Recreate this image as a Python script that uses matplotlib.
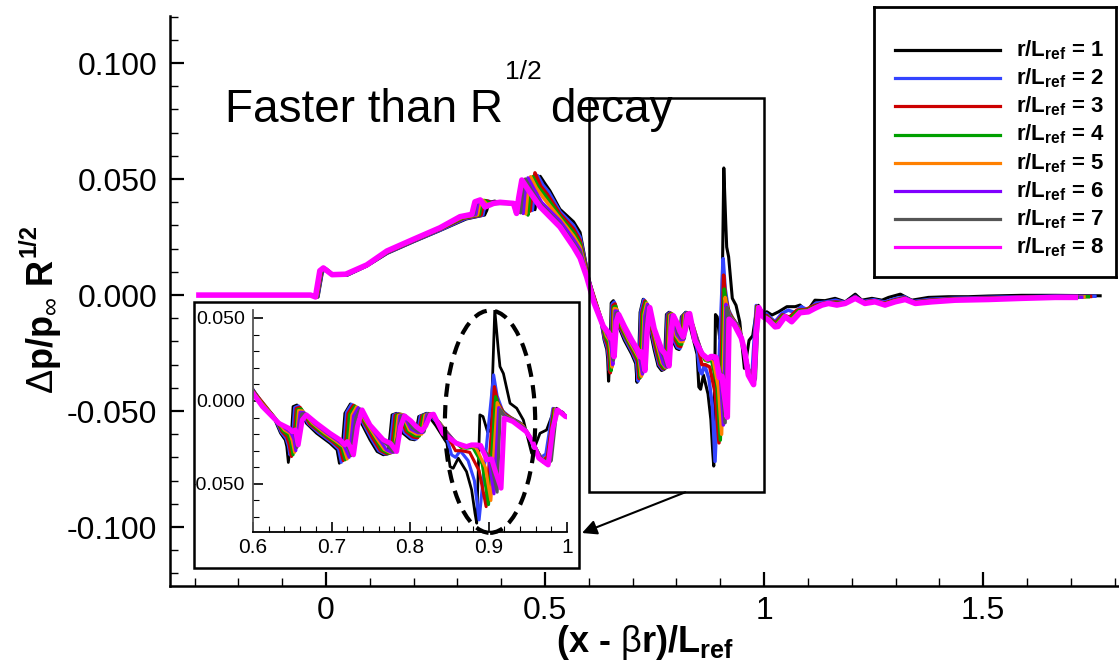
import numpy as np
import matplotlib
matplotlib.use("Agg")
import matplotlib.pyplot as plt
from matplotlib.patches import Rectangle, Ellipse
from matplotlib.ticker import MultipleLocator, FormatStrFormatter, FuncFormatter
from matplotlib.transforms import Bbox, TransformedBbox
from matplotlib import font_manager

plt.rcParams['font.family'] = 'Liberation Sans'
plt.rcParams['mathtext.fontset'] = 'custom'
plt.rcParams['mathtext.rm'] = 'Liberation Sans'
plt.rcParams['mathtext.bf'] = 'Liberation Sans:bold'
plt.rcParams['mathtext.it'] = 'Liberation Sans:italic'

try:
    font_manager.findfont('Liberation Sans Narrow', fallback_to_default=False)
    NARROW = 'Liberation Sans Narrow'
except Exception:
    NARROW = 'Liberation Sans'
plt.rcParams['mathtext.sf'] = NARROW + ':bold'

# ---- data: (x - beta r)/L_ref , dp/p_inf * R^1/2 for each r/L_ref ----
r1 = [(-0.29, 0.0), (-0.030, 0.0), (-0.018, -0.0008), (-0.008, 0.0100), (0.000, 0.0113), (0.018, 0.0085),
      (0.048, 0.0085), (0.093, 0.0125), (0.140, 0.0180), (0.200, 0.0230), (0.260, 0.0278), (0.320, 0.0328),
      (0.362, 0.0345), (0.367, 0.0365), (0.372, 0.0400), (0.385, 0.0405), (0.400, 0.0398), (0.420, 0.0395),
      (0.450, 0.0392), (0.472, 0.0385), (0.477, 0.0368), (0.482, 0.0450), (0.489, 0.0512), (0.500, 0.0480),
      (0.511, 0.0450), (0.534, 0.0370), (0.565, 0.0316), (0.580, 0.0270), (0.595, 0.0120), (0.600, 0.0070),
      (0.609, 0.0006), (0.626, -0.0094), (0.635, -0.0194), (0.641, -0.0235), (0.643, -0.0275), (0.645, -0.0371),
      (0.648, -0.0270), (0.651, -0.0034), (0.656, -0.0024), (0.668, -0.0135), (0.681, -0.0195), (0.698, -0.0255),
      (0.707, -0.0295), (0.710, -0.0376), (0.714, -0.0250), (0.717, -0.0074), (0.724, -0.0018), (0.736, -0.0115),
      (0.749, -0.0235), (0.758, -0.0305), (0.766, -0.0325), (0.772, -0.0320), (0.777, -0.0084), (0.783, -0.0074),
      (0.791, -0.0195), (0.800, -0.0230), (0.806, -0.0235), (0.811, -0.0094), (0.821, -0.0074), (0.833, -0.0150),
      (0.847, -0.0255), (0.851, -0.0396), (0.855, -0.0406), (0.8615, -0.0345), (0.872, -0.0426), (0.8785, -0.0536),
      (0.8828, -0.0677), (0.885, -0.0737), (0.889, -0.0084), (0.893, -0.0094), (0.899, -0.0190), (0.903, -0.0170),
      (0.908, 0.0548), (0.9125, 0.0307), (0.9146, 0.0207), (0.919, 0.0165), (0.9274, -0.0014), (0.9359, -0.0044),
      (0.9444, -0.0115), (0.9507, -0.0235), (0.955, -0.0316), (0.9592, -0.0275), (0.9656, -0.0195), (0.974, -0.0175),
      (0.9804, -0.0094), (0.9868, -0.0044), (0.9953, -0.0084), (1.000, -0.0100), (1.006, -0.0072), (1.018, -0.0086),
      (1.033, -0.0072), (1.052, -0.0050), (1.071, -0.0050), (1.082, -0.0043), (1.0975, -0.0072), (1.116, -0.0022),
      (1.139, -0.0024), (1.162, -0.0014), (1.185, -0.0029), (1.208, 0.0004), (1.223, -0.0022), (1.246, -0.0014),
      (1.269, -0.0022), (1.284, -0.0010), (1.311, 0.0004), (1.337, -0.0022), (1.375, -0.0010), (1.421, -0.0007),
      (1.466, -0.0007), (1.512, -0.0004), (1.588, -0.0001), (1.664, -0.0001), (1.767, -0.0003)]

r2 = [(-0.29, 0.0), (-0.031, 0.0), (-0.019, -0.0008), (-0.009, 0.0101), (-0.001, 0.0114), (0.017, 0.0086),
      (0.047, 0.0086), (0.093, 0.0126), (0.140, 0.0182), (0.200, 0.0232), (0.260, 0.0280), (0.318, 0.0330),
      (0.358, 0.0345), (0.363, 0.0390), (0.370, 0.0405), (0.380, 0.0400), (0.400, 0.0398), (0.420, 0.0395),
      (0.450, 0.0392), (0.466, 0.0385), (0.471, 0.0365), (0.476, 0.0450), (0.483, 0.0515), (0.495, 0.0475),
      (0.508, 0.0445), (0.534, 0.0360), (0.565, 0.0300), (0.580, 0.0250), (0.595, 0.0115), (0.600, 0.0066),
      (0.610, 0.0002), (0.627, -0.0098), (0.636, -0.0190), (0.642, -0.0225), (0.645, -0.0270), (0.647, -0.0325),
      (0.650, -0.0240), (0.653, -0.0040), (0.658, -0.0030), (0.670, -0.0135), (0.683, -0.0190), (0.700, -0.0250),
      (0.709, -0.0290), (0.7125, -0.0370), (0.716, -0.0250), (0.719, -0.0070), (0.7255, -0.0020), (0.738, -0.0115),
      (0.751, -0.0230), (0.760, -0.0300), (0.768, -0.0320), (0.774, -0.0315), (0.779, -0.0085), (0.785, -0.0076),
      (0.793, -0.0190), (0.802, -0.0225), (0.808, -0.0230), (0.813, -0.0092), (0.823, -0.0075), (0.835, -0.0130),
      (0.848, -0.0240), (0.853, -0.0325), (0.858, -0.0340), (0.864, -0.0300), (0.874, -0.0360), (0.882, -0.0480),
      (0.888, -0.0717), (0.893, -0.0480), (0.9065, 0.0157), (0.911, 0.0030), (0.918, -0.0060), (0.928, -0.0100),
      (0.940, -0.0130), (0.950, -0.0200), (0.958, -0.0280), (0.967, -0.0340), (0.973, -0.0320), (0.982, -0.0045),
      (0.990, -0.0060), (0.998, -0.0092), (1.005, -0.0080), (1.013, -0.0095), (1.025, -0.0115), (1.040, -0.0080),
      (1.055, -0.0065), (1.070, -0.0075), (1.085, -0.0050), (1.100, -0.0065), (1.118, -0.0035), (1.140, -0.0030),
      (1.163, -0.0022), (1.185, -0.0032), (1.208, -0.0005), (1.225, -0.0028), (1.250, -0.0020), (1.275, -0.0030),
      (1.300, -0.0015), (1.320, -0.0008), (1.340, -0.0028), (1.380, -0.0018), (1.430, -0.0014), (1.510, -0.0010),
      (1.590, -0.0007), (1.670, -0.0005), (1.755, -0.0005)]

r3 = [(-0.29, 0.0), (-0.032, 0.0), (-0.020, -0.0008), (-0.010, 0.0102), (-0.002, 0.0115), (0.016, 0.0087),
      (0.046, 0.0087), (0.093, 0.0127), (0.140, 0.0184), (0.200, 0.0234), (0.260, 0.0283), (0.315, 0.0332),
      (0.354, 0.0345), (0.359, 0.0392), (0.366, 0.0407), (0.376, 0.0400), (0.398, 0.0398), (0.420, 0.0395),
      (0.450, 0.0390), (0.461, 0.0380), (0.466, 0.0362), (0.471, 0.0460), (0.477, 0.0527), (0.490, 0.0470),
      (0.505, 0.0435), (0.534, 0.0350), (0.565, 0.0285), (0.580, 0.0235), (0.595, 0.0110), (0.600, 0.0062),
      (0.611, -0.0002), (0.628, -0.0102), (0.637, -0.0185), (0.643, -0.0215), (0.646, -0.0260), (0.649, -0.0335),
      (0.652, -0.0230), (0.655, -0.0045), (0.660, -0.0038), (0.672, -0.0138), (0.686, -0.0190), (0.702, -0.0248),
      (0.711, -0.0285), (0.715, -0.0360), (0.718, -0.0250), (0.721, -0.0075), (0.728, -0.0025), (0.740, -0.0118),
      (0.753, -0.0228), (0.762, -0.0298), (0.770, -0.0318), (0.776, -0.0312), (0.781, -0.0086), (0.787, -0.0078),
      (0.795, -0.0185), (0.804, -0.0218), (0.810, -0.0222), (0.815, -0.0090), (0.825, -0.0077), (0.837, -0.0130),
      (0.850, -0.0230), (0.858, -0.0300), (0.866, -0.0300), (0.876, -0.0310), (0.888, -0.0420), (0.897, -0.0637),
      (0.9075, 0.0086), (0.912, -0.0010), (0.920, -0.0075), (0.930, -0.0105), (0.942, -0.0140), (0.951, -0.0205),
      (0.960, -0.0290), (0.969, -0.0360), (0.975, -0.0335), (0.983, -0.0048), (0.991, -0.0062), (0.998, -0.0094),
      (1.006, -0.0088), (1.015, -0.0105), (1.026, -0.0120), (1.042, -0.0085), (1.058, -0.0095), (1.075, -0.0065),
      (1.095, -0.0062), (1.115, -0.0045), (1.140, -0.0033), (1.163, -0.0030), (1.185, -0.0033), (1.208, -0.0008),
      (1.226, -0.0030), (1.250, -0.0024), (1.275, -0.0034), (1.300, -0.0020), (1.320, -0.0012), (1.342, -0.0030),
      (1.380, -0.0022), (1.430, -0.0016), (1.510, -0.0013), (1.590, -0.0009), (1.670, -0.0007), (1.745, -0.0006)]

r4 = [(-0.29, 0.0), (-0.033, 0.0), (-0.021, -0.0008), (-0.011, 0.0103), (-0.003, 0.0115), (0.016, 0.0087),
      (0.046, 0.0088), (0.093, 0.0128), (0.140, 0.0186), (0.200, 0.0236), (0.260, 0.0285), (0.313, 0.0334),
      (0.350, 0.0346), (0.355, 0.0395), (0.362, 0.0408), (0.372, 0.0398), (0.395, 0.0398), (0.420, 0.0395),
      (0.448, 0.0390), (0.456, 0.0375), (0.461, 0.0345), (0.466, 0.0450), (0.472, 0.0510), (0.485, 0.0465),
      (0.500, 0.0430), (0.534, 0.0340), (0.565, 0.0270), (0.580, 0.0222), (0.595, 0.0100), (0.600, 0.0058),
      (0.611, -0.0010), (0.629, -0.0108), (0.638, -0.0180), (0.645, -0.0205), (0.648, -0.0250), (0.651, -0.0325),
      (0.654, -0.0220), (0.6565, -0.0052), (0.6615, -0.0048), (0.674, -0.0135), (0.688, -0.0192), (0.704, -0.0245),
      (0.713, -0.0280), (0.7175, -0.0355), (0.720, -0.0250), (0.723, -0.0080), (0.730, -0.0030), (0.742, -0.0120),
      (0.756, -0.0228), (0.764, -0.0295), (0.772, -0.0315), (0.778, -0.0310), (0.783, -0.0087), (0.789, -0.0080),
      (0.797, -0.0180), (0.806, -0.0210), (0.812, -0.0212), (0.817, -0.0088), (0.826, -0.0078), (0.838, -0.0132),
      (0.853, -0.0230), (0.865, -0.0280), (0.872, -0.0285), (0.880, -0.0280), (0.892, -0.0380), (0.900, -0.0625),
      (0.909, 0.0026), (0.914, -0.0040), (0.921, -0.0085), (0.931, -0.0110), (0.943, -0.0145), (0.952, -0.0210),
      (0.962, -0.0300), (0.970, -0.0370), (0.976, -0.0345), (0.984, -0.0050), (0.992, -0.0064), (0.998, -0.0095),
      (1.007, -0.0095), (1.016, -0.0110), (1.026, -0.0125), (1.044, -0.0088), (1.060, -0.0100), (1.078, -0.0068),
      (1.098, -0.0065), (1.115, -0.0050), (1.140, -0.0035), (1.164, -0.0035), (1.185, -0.0034), (1.208, -0.0010),
      (1.228, -0.0032), (1.251, -0.0026), (1.275, -0.0037), (1.300, -0.0023), (1.321, -0.0014), (1.343, -0.0032),
      (1.381, -0.0024), (1.432, -0.0018), (1.511, -0.0015), (1.590, -0.0011), (1.668, -0.0008), (1.740, -0.0007)]

r5 = [(-0.29, 0.0), (-0.033, 0.0), (-0.022, -0.0008), (-0.012, 0.0104), (-0.004, 0.0116), (0.015, 0.0087),
      (0.045, 0.0088), (0.093, 0.0128), (0.139, 0.0187), (0.199, 0.0237), (0.260, 0.0287), (0.311, 0.0336),
      (0.346, 0.0346), (0.351, 0.0398), (0.358, 0.0409), (0.368, 0.0390), (0.390, 0.0398), (0.420, 0.0395),
      (0.446, 0.0390), (0.451, 0.0370), (0.456, 0.0350), (0.461, 0.0455), (0.467, 0.0510), (0.480, 0.0462),
      (0.496, 0.0420), (0.534, 0.0330), (0.565, 0.0255), (0.580, 0.0208), (0.595, 0.0094), (0.600, 0.0054),
      (0.612, -0.0018), (0.630, -0.0115), (0.640, -0.0175), (0.647, -0.0195), (0.650, -0.0240), (0.653, -0.0310),
      (0.656, -0.0200), (0.658, -0.0058), (0.663, -0.0060), (0.676, -0.0135), (0.691, -0.0193), (0.706, -0.0243),
      (0.715, -0.0275), (0.720, -0.0350), (0.723, -0.0240), (0.726, -0.0085), (0.732, -0.0035), (0.744, -0.0125),
      (0.758, -0.0230), (0.767, -0.0292), (0.775, -0.0312), (0.780, -0.0308), (0.785, -0.0088), (0.791, -0.0082),
      (0.799, -0.0175), (0.808, -0.0200), (0.815, -0.0200), (0.819, -0.0086), (0.827, -0.0079), (0.839, -0.0140),
      (0.856, -0.0240), (0.868, -0.0280), (0.876, -0.0270), (0.884, -0.0280), (0.896, -0.0400), (0.903, -0.0600),
      (0.911, -0.0010), (0.916, -0.0060), (0.922, -0.0092), (0.932, -0.0115), (0.944, -0.0150), (0.953, -0.0215),
      (0.963, -0.0310), (0.972, -0.0375), (0.978, -0.0350), (0.985, -0.0052), (0.993, -0.0066), (0.998, -0.0095),
      (1.008, -0.0100), (1.018, -0.0120), (1.027, -0.0130), (1.046, -0.0090), (1.061, -0.0108), (1.080, -0.0072),
      (1.099, -0.0068), (1.116, -0.0053), (1.140, -0.0036), (1.165, -0.0038), (1.185, -0.0035), (1.208, -0.0011),
      (1.229, -0.0034), (1.252, -0.0027), (1.275, -0.0039), (1.299, -0.0025), (1.321, -0.0016), (1.344, -0.0034),
      (1.382, -0.0026), (1.433, -0.0019), (1.511, -0.0016), (1.589, -0.0012), (1.666, -0.0009), (1.730, -0.0008)]

r6 = [(-0.29, 0.0), (-0.034, 0.0), (-0.023, -0.0008), (-0.013, 0.0104), (-0.005, 0.0116), (0.015, 0.0088),
      (0.045, 0.0089), (0.093, 0.0129), (0.139, 0.0188), (0.199, 0.0238), (0.260, 0.0288), (0.309, 0.0337),
      (0.342, 0.0347), (0.347, 0.0400), (0.354, 0.0410), (0.365, 0.0385), (0.386, 0.0396), (0.420, 0.0395),
      (0.443, 0.0390), (0.446, 0.0365), (0.450, 0.0352), (0.455, 0.0460), (0.461, 0.0505), (0.474, 0.0460),
      (0.492, 0.0400), (0.534, 0.0320), (0.565, 0.0240), (0.580, 0.0195), (0.595, 0.0088), (0.600, 0.0050),
      (0.612, -0.0025), (0.631, -0.0122), (0.642, -0.0170), (0.648, -0.0190), (0.652, -0.0230), (0.6545, -0.0300),
      (0.657, -0.0190), (0.660, -0.0068), (0.665, -0.0070), (0.678, -0.0135), (0.694, -0.0194), (0.708, -0.0240),
      (0.716, -0.0270), (0.7225, -0.0340), (0.725, -0.0235), (0.728, -0.0090), (0.734, -0.0040), (0.746, -0.0130),
      (0.761, -0.0232), (0.770, -0.0295), (0.777, -0.0310), (0.782, -0.0306), (0.787, -0.0089), (0.792, -0.0085),
      (0.801, -0.0170), (0.810, -0.0192), (0.817, -0.0190), (0.821, -0.0085), (0.828, -0.0080), (0.840, -0.0150),
      (0.858, -0.0250), (0.870, -0.0275), (0.880, -0.0265), (0.888, -0.0280), (0.900, -0.0340), (0.907, -0.0560),
      (0.913, -0.0040), (0.918, -0.0075), (0.924, -0.0100), (0.933, -0.0118), (0.945, -0.0160), (0.954, -0.0225),
      (0.964, -0.0320), (0.973, -0.0380), (0.979, -0.0355), (0.986, -0.0053), (0.994, -0.0068), (0.998, -0.0094),
      (1.009, -0.0104), (1.020, -0.0128), (1.028, -0.0133), (1.047, -0.0091), (1.062, -0.0112), (1.081, -0.0074),
      (1.100, -0.0070), (1.116, -0.0055), (1.135, -0.0040), (1.147, -0.0035), (1.166, -0.0041), (1.185, -0.0036),
      (1.208, -0.0012), (1.229, -0.0035), (1.253, -0.0028), (1.276, -0.0041), (1.299, -0.0027), (1.322, -0.0017),
      (1.345, -0.0035), (1.383, -0.0028), (1.435, -0.0021), (1.512, -0.0018), (1.589, -0.0013), (1.665, -0.0010),
      (1.725, -0.0009)]

r7 = [(-0.29, 0.0), (-0.035, 0.0), (-0.024, -0.0008), (-0.014, 0.0105), (-0.006, 0.0117), (0.014, 0.0088),
      (0.045, 0.0089), (0.093, 0.0129), (0.139, 0.0189), (0.199, 0.0239), (0.260, 0.0289), (0.307, 0.0338),
      (0.337, 0.0347), (0.343, 0.0401), (0.350, 0.0410), (0.364, 0.0382), (0.384, 0.0395), (0.420, 0.0395),
      (0.436, 0.0390), (0.440, 0.0360), (0.444, 0.0355), (0.450, 0.0470), (0.455, 0.0500), (0.468, 0.0456),
      (0.490, 0.0390), (0.534, 0.0305), (0.565, 0.0222), (0.580, 0.0185), (0.595, 0.0082), (0.600, 0.0048),
      (0.612, -0.0030), (0.632, -0.0128), (0.644, -0.0168), (0.649, -0.0188), (0.653, -0.0185), (0.656, -0.0280),
      (0.660, -0.0150), (0.662, -0.0078), (0.6665, -0.0077), (0.680, -0.0135), (0.696, -0.0195), (0.710, -0.0238),
      (0.716, -0.0268), (0.719, -0.0250), (0.725, -0.0330), (0.728, -0.0210), (0.731, -0.0100), (0.7365, -0.0048),
      (0.748, -0.0138), (0.764, -0.0234), (0.772, -0.0270), (0.778, -0.0305), (0.784, -0.0220), (0.789, -0.0090),
      (0.794, -0.0088), (0.803, -0.0162), (0.811, -0.0185), (0.818, -0.0185), (0.823, -0.0084), (0.829, -0.0080),
      (0.841, -0.0160), (0.858, -0.0250), (0.872, -0.0275), (0.882, -0.0265), (0.890, -0.0275), (0.902, -0.0340),
      (0.911, -0.0550), (0.915, -0.0054), (0.920, -0.0090), (0.926, -0.0105), (0.934, -0.0120), (0.947, -0.0170),
      (0.955, -0.0235), (0.965, -0.0330), (0.975, -0.0383), (0.980, -0.0360), (0.987, -0.0054), (0.995, -0.0070),
      (0.998, -0.0094), (1.010, -0.0106), (1.023, -0.0134), (1.030, -0.0133), (1.048, -0.0092), (1.063, -0.0114),
      (1.082, -0.0075), (1.101, -0.0071), (1.116, -0.0056), (1.133, -0.0042), (1.147, -0.0036), (1.166, -0.0042),
      (1.185, -0.0036), (1.208, -0.0013), (1.230, -0.0036), (1.253, -0.0029), (1.276, -0.0042), (1.299, -0.0028),
      (1.322, -0.0018), (1.345, -0.0036), (1.383, -0.0029), (1.436, -0.0022), (1.512, -0.0019), (1.588, -0.0014),
      (1.664, -0.0010), (1.715, -0.0010)]

r8 = [(-0.29, 0.0), (-0.035, 0.0), (-0.024, -0.0008), (-0.014, 0.0105), (-0.006, 0.0117), (0.014, 0.0088),
      (0.045, 0.0090), (0.093, 0.0130), (0.139, 0.0190), (0.199, 0.0240), (0.260, 0.0290), (0.306, 0.0338),
      (0.333, 0.0348), (0.340, 0.0402), (0.352, 0.0410), (0.363, 0.0380), (0.382, 0.0395), (0.397, 0.0400),
      (0.428, 0.0395), (0.435, 0.0352), (0.440, 0.0420), (0.447, 0.0496), (0.462, 0.0453), (0.489, 0.0380),
      (0.534, 0.0294), (0.565, 0.0208), (0.580, 0.0160), (0.595, 0.0079), (0.600, 0.0046), (0.612, -0.0034),
      (0.633, -0.0135), (0.6457, -0.0165), (0.650, -0.0185), (0.654, -0.0175), (0.6576, -0.0265), (0.6627, -0.0115),
      (0.668, -0.0084), (0.681, -0.0135), (0.698, -0.0195), (0.711, -0.0235), (0.717, -0.0265), (0.720, -0.0245),
      (0.7236, -0.0275), (0.728, -0.0325), (0.733, -0.0155), (0.739, -0.0054), (0.749, -0.0145), (0.766, -0.0235),
      (0.775, -0.0255), (0.783, -0.0305), (0.788, -0.0155), (0.793, -0.0090), (0.801, -0.0120), (0.808, -0.0155),
      (0.815, -0.0180), (0.820, -0.0150), (0.826, -0.0084), (0.830, -0.0080), (0.842, -0.0195), (0.859, -0.0255),
      (0.872, -0.0275), (0.8785, -0.0265), (0.884, -0.0265), (0.890, -0.0268), (0.898, -0.0355), (0.904, -0.0350),
      (0.9075, -0.0406), (0.916, -0.0526), (0.920, -0.0104), (0.931, -0.0124), (0.948, -0.0185), (0.956, -0.0245),
      (0.964, -0.0345), (0.976, -0.0386), (0.982, -0.0165), (0.988, -0.0054), (0.998, -0.0094), (1.010, -0.0108),
      (1.025, -0.0137), (1.032, -0.0135), (1.048, -0.0093), (1.063, -0.0115), (1.082, -0.0076), (1.101, -0.0072),
      (1.116, -0.0057), (1.132, -0.0043), (1.147, -0.0036), (1.166, -0.0043), (1.185, -0.0036), (1.208, -0.0014),
      (1.230, -0.0036), (1.253, -0.0029), (1.276, -0.0043), (1.299, -0.0029), (1.322, -0.0019), (1.345, -0.0036),
      (1.383, -0.0029), (1.436, -0.0022), (1.512, -0.0019), (1.588, -0.0014), (1.664, -0.0010), (1.710, -0.0010)]

curves = [r1, r2, r3, r4, r5, r6, r7, r8]
labels = [r'r/L$_{\mathbf{ref}}$ = %d' % k for k in range(1, 9)]
colors = ['#000000', '#3344ff', '#cc0000', '#00a000', '#ff8000', '#8000ff', '#555555', '#ff00ff']
widths = [2.2, 2.5, 2.5, 2.5, 2.5, 2.5, 2.5, 4.0]

W, H = 1119, 671
fig = plt.figure(figsize=(W / 100, H / 100), dpi=100)
renderer = fig.canvas.get_renderer()

# main axes
ax = fig.add_axes([170 / W, 85 / H, (W - 170) / W, 570 / H])
ax.set_zorder(0)
for pts, c, w in zip(curves, colors, widths):
    a = np.array(pts)
    ax.plot(a[:, 0], a[:, 1], color=c, lw=w, solid_joinstyle='round')
ax.set_xlim(-0.356, 1.81)
ax.set_ylim(-0.1254, 0.1203)
for s in ['top', 'right']:
    ax.spines[s].set_visible(False)
for s in ['left', 'bottom']:
    ax.spines[s].set_linewidth(1.8)
ax.xaxis.set_major_locator(MultipleLocator(0.5))
ax.xaxis.set_minor_locator(MultipleLocator(0.1))
ax.yaxis.set_major_locator(MultipleLocator(0.05))
ax.yaxis.set_minor_locator(MultipleLocator(0.01))
ax.xaxis.set_major_formatter(FuncFormatter(lambda v, p: '%g' % round(v, 3)))
ax.yaxis.set_major_formatter(FormatStrFormatter('%.3f'))
ax.tick_params(which='major', direction='in', length=10, width=1.6)
ax.tick_params(which='minor', direction='in', length=6, width=1.0)
ax.tick_params(axis='y', which='major', labelsize=23, pad=9)
ax.tick_params(axis='x', which='major', labelsize=23, pad=7)
for t in ax.get_xticklabels():
    t.set_fontfamily(NARROW)

# y label with a small raised exponent
ylab = ax.set_ylabel(r'$\Delta$p/p$_{\infty}$ R', fontsize=26, fontweight='bold')
ax.yaxis.set_label_coords(-0.113, 0.455)
ye = ylab.get_window_extent(renderer)
fig.text((ye.x1 - 27) / W, (ye.y1 + 2) / H, '1/2', fontsize=17, fontweight='bold',
         rotation=90, rotation_mode='anchor', ha='left', va='baseline')

ax.set_xlabel(r'(x - $\mathrm{\beta}$r)/L$_{\mathsf{ref}}$', fontsize=26, fontweight='bold',
              fontfamily=NARROW, labelpad=-2)

# zoom box and arrow
ax.add_patch(Rectangle((0.6, -0.085), 0.4, 0.17, fill=False, ec='black', lw=1.8, zorder=5))
ax.annotate('', xy=(582 / W, 1 - 533 / H), xycoords='figure fraction',
            xytext=(0.82, -0.085), textcoords='data',
            arrowprops=dict(arrowstyle='-|>', color='black', lw=1.5, mutation_scale=22,
                            shrinkA=0, shrinkB=0), zorder=6)

# annotation text with a small raised exponent
base_y = 1 - 122 / H
t1 = fig.text(225 / W, base_y, 'Faster than R', fontsize=33, va='baseline')
e1 = t1.get_window_extent(renderer)
t2 = fig.text((e1.x1 + 2) / W, base_y + 43 / H, '1/2', fontsize=19, va='baseline')
e2 = t2.get_window_extent(renderer)
fig.text((e2.x1 + 8) / W, base_y, 'decay', fontsize=33, va='baseline')

# inset frame
bx0, by0, bx1, by1 = 194 / W, 1 - 568 / H, 579 / W, 1 - 302 / H
frame = Rectangle((bx0, by0), bx1 - bx0, by1 - by0, transform=fig.transFigure,
                  fc='white', ec='black', lw=1.8, zorder=1)
fig.add_artist(frame)

axi = fig.add_axes([253 / W, 1 - 532 / H, 314 / W, 222 / H])
axi.set_zorder(2)
axi.patch.set_alpha(0)
for pts, c, w in zip(curves, colors, widths):
    a = np.array(pts)
    axi.plot(a[:, 0], a[:, 1], color=c, lw=w * 0.9, solid_joinstyle='round')
axi.set_xlim(0.6, 1.0)
axi.set_ylim(-0.079, 0.0548)
for s in ['top', 'right']:
    axi.spines[s].set_visible(False)
axi.spines['left'].set_color('#555555')
for s in ['left', 'bottom']:
    axi.spines[s].set_linewidth(1.3)
axi.set_xticks([0.6, 0.7, 0.8, 0.9, 1.0])
axi.set_yticks([-0.05, 0.0, 0.05])
axi.xaxis.set_minor_locator(MultipleLocator(0.02))
axi.yaxis.set_minor_locator(MultipleLocator(0.01))
axi.xaxis.set_major_formatter(FuncFormatter(lambda v, p: '%g' % round(v, 3)))
axi.yaxis.set_major_formatter(FormatStrFormatter('%.3f'))
axi.tick_params(which='major', direction='in', length=7, width=1.2)
axi.tick_params(which='minor', direction='in', length=4, width=0.8)
axi.tick_params(axis='y', labelsize=14, pad=6)
axi.tick_params(axis='x', labelsize=15, pad=4)
for t in axi.get_xticklabels():
    t.set_fontfamily(NARROW)
clip = TransformedBbox(Bbox([[bx0, by0], [bx1, by1]]), fig.transFigure)
for tk in axi.yaxis.get_major_ticks():
    tk.label1.set_clip_box(clip)
    tk.label1.set_clip_on(True)

axi.add_patch(Ellipse((0.902, -0.0125), 0.115, 0.134, fill=False, ec='black', lw=3,
                      ls=(0, (3.2, 2.0)), clip_on=False, zorder=5))

# legend box
lax = fig.add_axes([874 / W, 1 - 277 / H, 242 / W, 270 / H])
lax.set_xlim(0, 242)
lax.set_ylim(270, 0)
lax.set_xticks([])
lax.set_yticks([])
for sp in lax.spines.values():
    sp.set_linewidth(2.0)
for i, (lab, c) in enumerate(zip(labels, colors)):
    yy = 43 + 28.2 * i
    lax.plot([21, 126], [yy, yy], color=c, lw=2.3)
    lax.text(142, yy, lab, fontsize=16, fontweight='bold', va='center')

fig.savefig('out.png', dpi=100)
